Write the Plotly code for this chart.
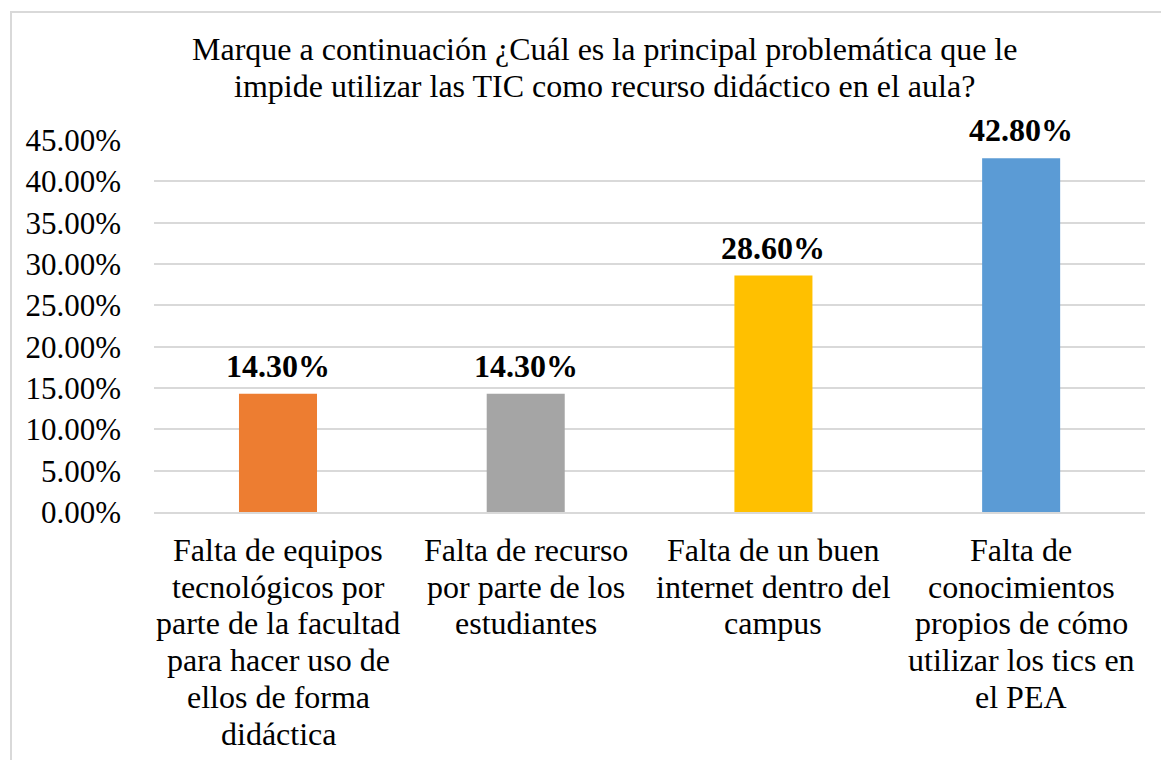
import plotly.graph_objects as go

# Survey results: main obstacle to using ICT as a teaching resource
categories = [
    "Falta de equipos tecnológicos por parte de la facultad para hacer uso de ellos de forma didáctica",
    "Falta de recurso por parte de los estudiantes",
    "Falta de un buen internet dentro del campus",
    "Falta de conocimientos propios de cómo utilizar los tics en el PEA",
]
# Wrapped versions of the category names, one list of lines per category
category_lines = [
    ["Falta de equipos", "tecnológicos por", "parte de la facultad", "para hacer uso de", "ellos de forma", "didáctica"],
    ["Falta de recurso", "por parte de los", "estudiantes"],
    ["Falta de un buen", "internet dentro del", "campus"],
    ["Falta de", "conocimientos", "propios de cómo", "utilizar los tics en", "el PEA"],
]
shares = [0.143, 0.143, 0.286, 0.428]
bar_colors = ["#ED7D31", "#A5A5A5", "#FFC000", "#5B9BD5"]
y_ticks = [0, 0.05, 0.10, 0.15, 0.20, 0.25, 0.30, 0.35, 0.40, 0.45]
title_lines = [
    "Marque a continuación ¿Cuál es la principal problemática que le",
    "impide utilizar las TIC como recurso didáctico en el aula?",
]

W, H = 1161, 760
L, R, T, B = 154, 16, 140, 248
pw, ph = W - L - R, H - T - B

def px_x(x):
    return (x - L) / pw

def px_y(y):
    return (H - B - y) / ph

FONT = "Liberation Serif"
LINE_GAP = 36.7

fig = go.Figure(
    go.Bar(
        x=categories,
        y=shares,
        marker=dict(color=bar_colors, line=dict(width=0)),
        width=0.315,
        cliponaxis=False,
        hoverinfo="skip",
    )
)

annotations = []

# Title, one annotation per line for tighter line spacing
for j, line in enumerate(title_lines):
    annotations.append(dict(
        text=line, xref="paper", yref="paper",
        x=px_x(604), y=px_y(49 + j * LINE_GAP),
        xanchor="center", yanchor="middle", showarrow=False,
        font=dict(family=FONT, size=32, color="#000000"),
    ))

# Value labels above the bars
for cat, val in zip(categories, shares):
    annotations.append(dict(
        text=f"<b>{val:.2%}</b>", xref="x", yref="y",
        x=cat, y=val, xanchor="center", yanchor="middle",
        yshift=28, showarrow=False,
        font=dict(family=FONT, size=32, color="#000000"),
    ))

# Category labels under the axis
for cat, lines in zip(categories, category_lines):
    for j, line in enumerate(lines):
        annotations.append(dict(
            text=line, xref="x", yref="y",
            x=cat, y=0, xanchor="center", yanchor="middle",
            yshift=-(38 + j * LINE_GAP), showarrow=False,
            font=dict(family=FONT, size=32, color="#000000"),
        ))

fig.update_layout(
    width=W,
    height=H,
    margin=dict(l=L, r=R, t=T, b=B),
    paper_bgcolor="#FFFFFF",
    plot_bgcolor="#FFFFFF",
    showlegend=False,
    font=dict(family=FONT, color="#000000", size=31),
    xaxis=dict(
        automargin=False,
        showgrid=False,
        showline=True,
        linecolor="#D9D9D9",
        linewidth=2,
        ticks="",
        showticklabels=False,
        fixedrange=True,
    ),
    yaxis=dict(
        automargin=False,
        range=[0, 0.45],
        tickvals=y_ticks,
        tickformat=".2%",
        showgrid=True,
        gridcolor="#D9D9D9",
        gridwidth=2,
        zeroline=False,
        showline=False,
        ticks="",
        ticklabelstandoff=32,
        tickfont=dict(family=FONT, size=31, color="#000000"),
        fixedrange=True,
    ),
    annotations=annotations,
    shapes=[
        dict(
            type="rect",
            xref="paper",
            yref="paper",
            x0=px_x(11),
            x1=px_x(W + 40),
            y0=px_y(H + 40),
            y1=px_y(12),
            line=dict(color="#D9D9D9", width=2),
            fillcolor="rgba(0,0,0,0)",
            layer="below",
        )
    ],
)

fig.write_html("out.html")
